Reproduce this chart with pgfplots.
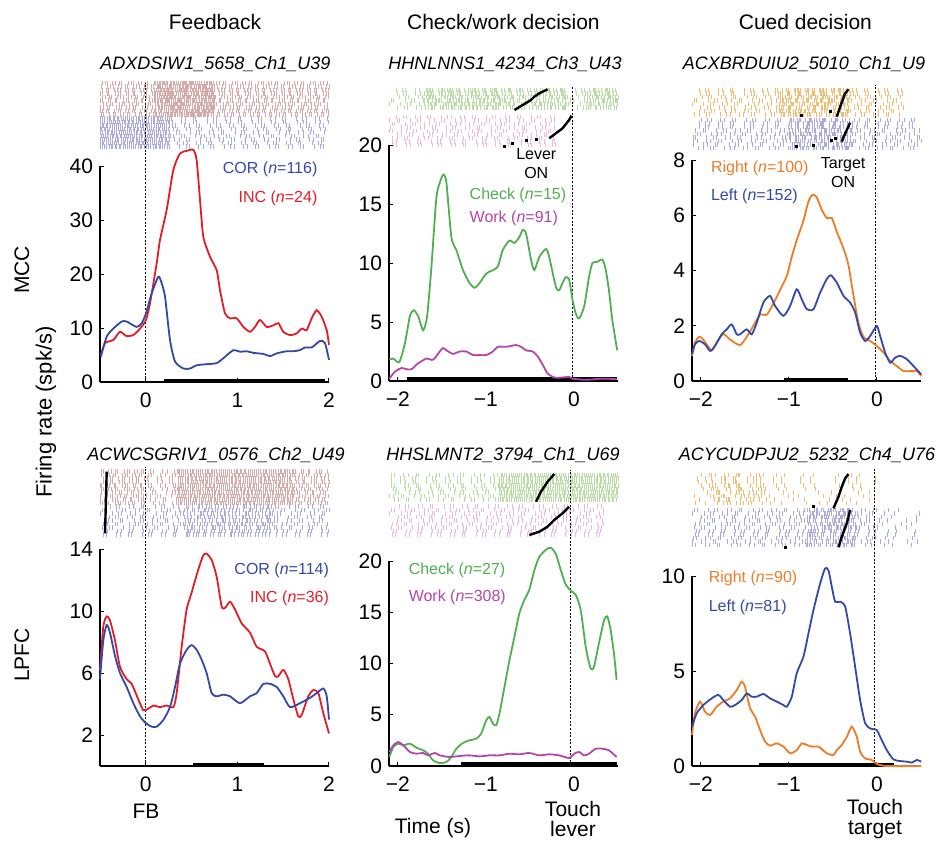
\documentclass[border=0pt]{standalone}
\usepackage{fontspec}
\setmainfont{Liberation Sans}
\usepackage{pgfplots}
\pgfplotsset{compat=1.18}

\definecolor{cblue}{RGB}{52,72,168}
\definecolor{cred}{RGB}{225,30,40}
\definecolor{cgreen}{RGB}{80,175,80}
\definecolor{cmag}{RGB}{180,70,170}
\definecolor{corange}{RGB}{235,125,40}
\definecolor{rpink}{RGB}{215,170,170}
\definecolor{rlav}{RGB}{170,170,222}
\definecolor{rgreen}{RGB}{185,220,165}
\definecolor{rwork}{RGB}{235,185,225}
\definecolor{rorange}{RGB}{240,190,115}

\pgfplotsset{
  panel/.style={scale only axis, width=114.5pt, axis lines=left,
    axis line style={-, line width=0.6pt}, clip=false,
    tick align=inside, major tick length=2pt, tick style={black, line width=0.5pt},
    tick label style={font=\fontsize{10.5}{12}\selectfont},
    xticklabel style={yshift=-2pt},
    /pgf/number format/assume math mode=true,
    every axis plot/.append style={line width=0.9pt}},
  raster/.style={scale only axis, width=114.5pt, axis lines=none, y dir=reverse,
    clip=false, anchor=north west},
  sp/.style={dash pattern=on .5pt off 2.6pt on .5pt off 1.1pt on .5pt off 4.2pt on .5pt off 1.7pt on .5pt off 3.4pt on .5pt off .8pt on .5pt off 5.1pt},
  vs/.style={dash pattern=on .5pt off 6pt on .5pt off 3.5pt on .5pt off 9pt on .5pt off 4.7pt on .5pt off 12pt},
  md/.style={dash pattern=on .5pt off 1.2pt on .5pt off .6pt on .5pt off 2.1pt on .5pt off .9pt on .5pt off 1.6pt on .5pt off .4pt on .5pt off 2.7pt},
  dn/.style={dash pattern=on .5pt off .5pt on .5pt off .2pt on .5pt off .8pt on .5pt off .3pt on .5pt off .6pt on .5pt off .4pt on .5pt off 1pt},
  sig/.style={black, line width=1.8pt},
  fbline/.style={black, line width=0.65pt, dash pattern=on 1pt off 0.8pt},
  evt/.style={black, line width=1.2pt},
  evd/.style={black, only marks, mark=square*, mark size=0.55pt},
}

% raster rows: x from, x to, list of row positions, style
% (the dash phase of each row is shifted so the ticks do not line up)
\newcommand\rrows[4]{\pgfplotsinvokeforeach{#3}{%
  \pgfmathsetmacro\rph{10+9*sin(mod(##1,10)*97+##1)}%
  \edef\rtmp{\noexpand\addplot[#4, line width=2.1pt, dash phase=\rph pt] coordinates {(#1,##1) (#2,##1)};}\rtmp}}

\newcommand\leg{\fontsize{8}{9.5}\selectfont}
\newcommand\lab{\fontsize{10.5}{10}\selectfont}

\begin{document}
\begin{tikzpicture}
\path[use as bounding box] (0,0) rectangle (469pt,-421.5pt);

% headers and labels
\node[font=\lab] at (107.5pt,-11pt) {Feedback};
\node[font=\lab] at (251.7pt,-11pt) {Check/work decision};
\node[font=\lab] at (402.7pt,-11pt) {Cued decision};
\node[font=\fontsize{9}{10}\selectfont\itshape] at (107.7pt,-32pt) {ADXDSIW1\_5658\_Ch1\_U39};
\node[font=\fontsize{9}{10}\selectfont\itshape] at (252.5pt,-32pt) {HHNLNNS1\_4234\_Ch3\_U43};
\node[font=\fontsize{9}{10}\selectfont\itshape] at (402pt,-32pt) {ACXBRDUIU2\_5010\_Ch1\_U9};
\node[font=\fontsize{9}{10}\selectfont\itshape] at (108pt,-227.5pt) {ACWCSGRIV1\_0576\_Ch2\_U49};
\node[font=\fontsize{9}{10}\selectfont\itshape] at (251.5pt,-227.5pt) {HHSLMNT2\_3794\_Ch1\_U69};
\node[font=\fontsize{9}{10}\selectfont\itshape] at (403.5pt,-227.5pt) {ACYCUDPJU2\_5232\_Ch4\_U76};
\node[font=\lab, rotate=90] at (11pt,-135pt) {MCC};
\node[font=\lab, rotate=90] at (11pt,-327.5pt) {LPFC};
\node[font=\fontsize{11}{12}\selectfont, rotate=90] at (23pt,-206pt) {Firing rate (spk/s)};
\node[font=\lab] at (73pt,-405.5pt) {FB};
\node[font=\lab] at (216.5pt,-414pt) {Time (s)};
\node[font=\lab, align=center] at (286.5pt,-409.5pt) {Touch\\lever};
\node[font=\lab, align=center] at (437.5pt,-409.5pt) {Touch\\target};

% ---------------- A: MCC feedback ----------------
\begin{axis}[raster, at={(50pt,-39pt)}, height=36pt, xmin=-0.5, xmax=2, ymin=78, ymax=150]
\rrows{-0.5}{2}{83,86.5,90,93.5,97,100.5,104,107.5,111,114.5}{rpink, md}
\rrows{0.1}{0.75}{83,86.5,90,93.5,97,100.5,104,107.5,111,114.5}{rpink, dn}
\rrows{-0.5}{0.26}{118.5,122,125.5,129,132.5,136,139.5,143,146.5}{rlav, dn}
\rrows{0.26}{2}{118.5,122,125.5,129,132.5,136,139.5,143,146.5}{rlav, sp}
\end{axis}
\begin{axis}[panel, at={(50pt,-191pt)}, anchor=south west, height=108pt,
  xmin=-0.5, xmax=2, ymin=0, ymax=40, xtick={0,1,2}, ytick={0,10,20,30,40}]
\addplot[fbline] coordinates {(0,0) (0,55.4)};
\addplot[sig] coordinates {(0.2,0.3) (1.96,0.3)};
\addplot[cred, smooth, tension=0.4] coordinates {
(-0.49,5.0) (-0.445,7.2) (-0.354,7.8) (-0.282,9.3) (-0.209,8.5) (-0.136,8.7)
(-0.063,9.9) (0.002,11.5) (0.046,14.6) (0.119,22.0) (0.155,26.3) (0.228,31.9)
(0.301,39.3) (0.373,42.3) (0.446,42.8) (0.519,43.0) (0.555,41.1) (0.592,33.7)
(0.628,26.9) (0.701,23.2) (0.774,20.7) (0.810,17.0) (0.865,12.7) (0.919,11.8)
(0.992,11.8) (1.065,10.2) (1.138,9.3) (1.192,10.2) (1.247,11.5) (1.320,10.2)
(1.392,10.5) (1.447,10.9) (1.501,9.3) (1.574,8.7) (1.647,9.0) (1.702,9.9)
(1.756,9.6) (1.811,11.8) (1.865,13.3) (1.920,12.1) (1.975,9.6) (2.0,6.9)};
\addplot[cblue, smooth, tension=0.4] coordinates {
(-0.49,4.7) (-0.427,8.4) (-0.354,9.9) (-0.263,11.2) (-0.209,11.2) (-0.1,10.2)
(-0.045,10.9) (0.002,12.7) (0.064,16.4) (0.137,19.5) (0.173,18.3) (0.210,15.8)
(0.264,7.8) (0.319,3.8) (0.41,2.5) (0.483,2.5) (0.555,3.1) (0.664,3.3)
(0.774,3.5) (0.846,4.4) (0.956,5.9) (1.028,5.6) (1.101,5.7) (1.174,5.4)
(1.283,5.2) (1.356,4.8) (1.429,5.3) (1.538,5.7) (1.611,5.7) (1.683,5.9)
(1.738,6.4) (1.811,6.4) (1.902,7.6) (1.956,7.2) (2.0,4.1)};
\node[anchor=east, font=\leg, text=cblue] at (axis cs:1.95,39.3) {COR (\textit{n}=116)};
\node[anchor=east, font=\leg, text=cred] at (axis cs:1.95,34.1) {INC (\textit{n}=24)};
\end{axis}

% ---------------- B: MCC check/work ----------------
\begin{axis}[raster, at={(194.5pt,-43pt)}, height=31pt, xmin=-2.1, xmax=0.5, ymin=86, ymax=148]
\rrows{-2.1}{0.5}{90,93.5,97,100.5,104,107.5}{rgreen, sp}
\rrows{-1.7}{-0.1}{90,93.5,97,100.5,104,107.5}{rgreen, md}
\rrows{0.15}{0.5}{90,93.5,97,100.5,104,107.5}{rgreen, md}
\rrows{-2.1}{-0.2}{117,120.5,124,127.5,131,134.5,138,141.5,145}{rwork, sp}
\addplot[evt] coordinates {(-0.676,110) (-0.582,105) (-0.488,100) (-0.45,96.7) (-0.394,93.3) (-0.3,89.3)};
\addplot[evt] coordinates {(-0.281,138.3) (-0.206,133.3) (-0.130,128.3) (-0.055,120) (-0.028,115.7)};
\addplot[evd] coordinates {(-0.789,146.7) (-0.695,143.3) (-0.544,140.7) (-0.431,139.3)};
\end{axis}
\begin{axis}[panel, at={(194.5pt,-190.5pt)}, anchor=south west, height=118pt,
  xmin=-2.1, xmax=0.5, ymin=0, ymax=20, xtick={-2,-1,0}, xticklabels={−2,−1,0},
  ytick={0,5,10,15,20}]
\addplot[fbline] coordinates {(-0.02,0) (-0.02,24.9)};
\addplot[sig] coordinates {(-1.9,0.15) (0.49,0.15)};
\addplot[cgreen, smooth, tension=0.4] coordinates {
(-2.096,1.8) (-2.051,1.9) (-1.983,1.6) (-1.919,3.2) (-1.863,5.5) (-1.818,6.0)
(-1.769,5.5) (-1.712,4.3) (-1.667,5.5) (-1.618,9.7) (-1.561,15.6) (-1.505,17.2)
(-1.479,17.5) (-1.448,16.8) (-1.392,12.2) (-1.335,11.1) (-1.260,9.4) (-1.185,8.3)
(-1.128,7.9) (-1.072,8.3) (-0.996,9.1) (-0.921,9.4) (-0.865,9.7) (-0.808,11.1)
(-0.733,11.9) (-0.676,11.7) (-0.620,12.2) (-0.582,12.8) (-0.544,12.5) (-0.488,10.3)
(-0.450,9.4) (-0.394,10.5) (-0.318,11.2) (-0.281,10.5) (-0.206,8.0) (-0.168,7.7)
(-0.130,8.3) (-0.093,8.8) (-0.055,8.6) (-0.017,6.9) (0.021,5.7) (0.058,5.3)
(0.115,6.3) (0.171,8.8) (0.209,10.0) (0.265,10.1) (0.322,10.3) (0.359,9.5)
(0.397,7.7) (0.435,5.2) (0.491,2.6)};
\addplot[cmag, smooth, tension=0.4] coordinates {
(-2.096,0.2) (-2.032,0.8) (-1.957,1.1) (-1.900,1.0) (-1.844,1.0) (-1.769,1.5)
(-1.674,1.9) (-1.599,1.8) (-1.524,2.5) (-1.486,2.8) (-1.448,2.6) (-1.373,2.3)
(-1.298,2.5) (-1.222,2.5) (-1.147,2.2) (-1.072,2.2) (-0.996,2.2) (-0.921,2.5)
(-0.865,2.9) (-0.770,2.9) (-0.657,3.05) (-0.601,2.9) (-0.544,2.6) (-0.469,2.5)
(-0.413,2.1) (-0.356,1.4) (-0.300,0.65) (-0.224,0.3) (-0.130,0.3) (-0.055,0.35)
(-0.017,0.2) (0.134,0.1) (0.322,0.2) (0.491,0.15)};
\node[anchor=west, font=\leg, text=cgreen] at (axis cs:-1.264,15.7) {Check (\textit{n}=15)};
\node[anchor=west, font=\leg, text=cmag] at (axis cs:-1.264,13.8) {Work (\textit{n}=91)};
\node[font=\leg, align=center, fill=white, inner sep=0.5pt] at (axis cs:-0.428,18.4) {Lever\\ON};
\end{axis}

% ---------------- C: MCC cued ----------------
\begin{axis}[raster, at={(346pt,-43pt)}, height=32pt, xmin=-2.1, xmax=0.5, ymin=86, ymax=150]
\rrows{-2.1}{0.3}{90,93.5,97,100.5,104,107.5,111,114.5}{rorange, sp}
\rrows{-1.1}{-0.3}{90,93.5,97,100.5,104,107.5,111,114.5}{rorange, md}
\rrows{-2.1}{0.5}{120,123.5,127,130.5,134,137.5,141,144.5,148}{rlav, sp}
\rrows{-1.0}{-0.3}{120,123.5,127,130.5,134,137.5,141,144.5,148}{rlav, md}
\addplot[evt] coordinates {(-0.456,116.7) (-0.418,106.7) (-0.361,93.3) (-0.324,89.3)};
\addplot[evt] coordinates {(-0.399,141.7) (-0.361,133.3) (-0.305,122.7)};
\addplot[evd] coordinates {(-0.854,115) (-0.532,111.7) (-0.911,146.7) (-0.721,145) (-0.513,140.7) (-0.475,138.3)};
\end{axis}
\begin{axis}[panel, at={(346pt,-190.5pt)}, anchor=south west, height=110.5pt,
  xmin=-2.1, xmax=0.5, ymin=0, ymax=8, xtick={-2,-1,0}, xticklabels={−2,−1,0},
  ytick={0,2,4,6,8}]
\addplot[fbline] coordinates {(-0.02,0) (-0.02,10.7)};
\addplot[sig] coordinates {(-1.055,0.06) (-0.324,0.06)};
\addplot[corange, smooth, tension=0.4] coordinates {
(-2.1,0.9) (-2.066,1.4) (-2.017,1.6) (-1.971,1.5) (-1.877,1.1) (-1.820,1.4)
(-1.744,1.7) (-1.668,1.5) (-1.555,1.3) (-1.479,1.6) (-1.403,2.0) (-1.327,2.4)
(-1.252,2.4) (-1.176,2.8) (-1.100,3.3) (-1.024,3.8) (-0.967,4.5) (-0.911,5.1)
(-0.835,5.8) (-0.778,6.5) (-0.733,6.74) (-0.683,6.65) (-0.627,6.2) (-0.570,5.9)
(-0.513,5.9) (-0.456,5.4) (-0.380,4.8) (-0.324,4.2) (-0.267,3.1) (-0.210,2.1)
(-0.153,1.6) (-0.077,1.45) (-0.002,1.27) (0.074,1.03) (0.150,0.73) (0.226,0.54)
(0.302,0.36) (0.377,0.36) (0.453,0.36) (0.502,0.18)};
\addplot[cblue, smooth, tension=0.4] coordinates {
(-2.1,0.97) (-2.066,1.33) (-2.017,1.45) (-1.952,1.33) (-1.895,1.09) (-1.839,1.27)
(-1.763,1.69) (-1.706,1.87) (-1.649,2.05) (-1.592,1.69) (-1.555,1.69) (-1.479,1.87)
(-1.422,1.69) (-1.365,2.11) (-1.289,2.84) (-1.214,3.08) (-1.157,2.72) (-1.062,2.36)
(-0.986,2.72) (-0.911,3.32) (-0.854,2.96) (-0.797,2.60) (-0.721,2.60) (-0.645,3.20)
(-0.570,3.69) (-0.524,3.83) (-0.456,3.56) (-0.380,3.08) (-0.305,2.84) (-0.248,2.48)
(-0.191,1.75) (-0.134,1.45) (-0.077,1.63) (-0.002,1.99) (0.036,1.63) (0.093,1.03)
(0.150,0.66) (0.207,0.85) (0.264,0.91) (0.339,0.79) (0.415,0.54) (0.502,0.24)};
\node[anchor=west, font=\leg, text=corange] at (axis cs:-1.964,7.68) {Right (\textit{n}=100)};
\node[anchor=west, font=\leg, text=cblue] at (axis cs:-1.964,6.67) {Left (\textit{n}=152)};
\node[font=\leg, align=center, fill=white, inner sep=0.5pt] at (axis cs:-0.384,7.55) {Target\\ON};
\end{axis}

% ---------------- D: LPFC feedback ----------------
\begin{axis}[raster, at={(50pt,-234pt)}, height=34.5pt, xmin=-0.5, xmax=2, ymin=468, ymax=537]
\rrows{-0.5}{0}{471.5,475,478.5,482,485.5,489,492.5,496,499.5,503}{rpink, md}
\rrows{0}{0.35}{471.5,475,478.5,482,485.5,489,492.5,496,499.5,503}{rpink, sp}
\rrows{0.35}{1.6}{471.5,475,478.5,482,485.5,489,492.5,496,499.5,503}{rpink, dn}
\rrows{1.6}{2}{471.5,475,478.5,482,485.5,489,492.5,496,499.5,503}{rpink, md}
\rrows{-0.5}{2}{506.5,510,513.5,517,520.5,524,527.5,531,534.5}{rlav, sp}
\rrows{-0.5}{-0.1}{506.5,510,513.5,517,520.5,524,527.5,531,534.5}{rlav, sp}
\rrows{0.4}{1.4}{506.5,510,513.5,517,520.5,524,527.5,531,534.5}{rlav, sp}
\addplot[evt] coordinates {(-0.427,471.7) (-0.445,533.3)};
\end{axis}
\begin{axis}[panel, at={(50pt,-383pt)}, anchor=south west, height=108.5pt,
  xmin=-0.5, xmax=2, ymin=0, ymax=14, xtick={0,1,2}, ytick={2,6,10,14}]
\addplot[fbline] coordinates {(0,0) (0,19.3)};
\addplot[sig] coordinates {(0.519,0.11) (1.29,0.11)};
\addplot[cred, smooth, tension=0.4] coordinates {
(-0.5,6.2) (-0.464,9.0) (-0.427,9.65) (-0.391,9.4) (-0.336,8.1) (-0.282,6.4)
(-0.209,5.6) (-0.154,5.3) (-0.082,4.3) (-0.027,3.6) (0.028,3.7) (0.082,3.9)
(0.155,3.8) (0.228,3.9) (0.301,3.8) (0.337,4.7) (0.392,7.7) (0.446,10.1)
(0.501,11.2) (0.574,12.7) (0.628,13.6) (0.664,13.7) (0.719,13.3) (0.774,12.2)
(0.828,10.3) (0.865,10.2) (0.919,10.6) (0.974,10.1) (1.047,9.2) (1.138,8.6)
(1.210,7.7) (1.301,7.4) (1.356,6.6) (1.411,5.8) (1.447,5.8) (1.501,6.2)
(1.556,5.6) (1.611,4.3) (1.665,3.2) (1.702,3.3) (1.774,4.5) (1.829,4.9)
(1.884,4.7) (1.938,3.4) (2.0,2.1)};
\addplot[cblue, smooth, tension=0.4] coordinates {
(-0.5,5.6) (-0.464,8.1) (-0.427,9.1) (-0.391,8.6) (-0.336,7.1) (-0.282,6.0)
(-0.209,5.1) (-0.136,4.05) (-0.063,3.2) (0.002,2.76) (0.064,2.54) (0.119,2.54)
(0.191,2.97) (0.264,3.8) (0.319,5.1) (0.373,6.6) (0.446,7.5) (0.501,7.8)
(0.555,7.5) (0.610,6.85) (0.664,6.0) (0.719,4.7) (0.774,4.5) (0.846,4.6)
(0.919,4.5) (1.028,4.05) (1.138,4.5) (1.210,4.7) (1.283,5.3) (1.356,5.3)
(1.429,5.1) (1.501,4.5) (1.574,3.8) (1.683,4.05) (1.793,4.4) (1.865,4.7)
(1.938,5.0) (1.975,4.5) (2.0,3.0)};
\node[anchor=east, font=\leg, text=cblue] at (axis cs:2.076,12.65) {COR (\textit{n}=114)};
\node[anchor=east, font=\leg, text=cred] at (axis cs:2.076,10.84) {INC (\textit{n}=36)};
\end{axis}

% ---------------- E: LPFC check/work ----------------
\begin{axis}[raster, at={(194.5pt,-236pt)}, height=32.5pt, xmin=-2.1, xmax=0.5, ymin=472, ymax=537]
\rrows{-2.1}{-0.85}{475,478.5,482,485.5,489,492.5,496,499.5}{rgreen, sp}
\rrows{-0.85}{0.5}{475,478.5,482,485.5,489,492.5,496,499.5}{rgreen, dn}
\rrows{-2.1}{0.35}{506.5,510,513.5,517,520.5,524,527.5,531,534.5}{rwork, sp}
\addplot[evt] coordinates {(-0.431,501.7) (-0.375,491.7) (-0.300,481.7) (-0.224,474)};
\addplot[evt] coordinates {(-0.507,535) (-0.394,531.7) (-0.300,526.7) (-0.224,520) (-0.130,513.3) (-0.055,506.7)};
\end{axis}
\begin{axis}[panel, at={(194.5pt,-383pt)}, anchor=south west, height=102.5pt,
  xmin=-2.1, xmax=0.5, ymin=0, ymax=20, xtick={-2,-1,0}, xticklabels={−2,−1,0},
  ytick={0,5,10,15,20}]
\addplot[fbline] coordinates {(-0.04,0) (-0.04,28.9)};
\addplot[sig] coordinates {(-1.279,0.17) (0.484,0.17)};
\addplot[cgreen, smooth, tension=0.4] coordinates {
(-2.096,0.88) (-2.051,1.86) (-1.995,2.18) (-1.938,2.02) (-1.863,2.18) (-1.787,1.79)
(-1.712,1.53) (-1.656,1.2) (-1.599,0.55) (-1.524,0.29) (-1.448,0.39) (-1.392,0.88)
(-1.335,1.69) (-1.260,2.25) (-1.185,2.51) (-1.109,2.67) (-1.053,3.16) (-0.996,4.46)
(-0.959,4.79) (-0.921,4.14) (-0.883,3.97) (-0.846,5.11) (-0.789,7.72) (-0.733,10.3)
(-0.676,12.6) (-0.620,14.9) (-0.563,16.2) (-0.507,17.2) (-0.450,19.1) (-0.394,20.4)
(-0.318,21.1) (-0.262,21.3) (-0.206,20.7) (-0.149,19.1) (-0.093,17.7) (-0.036,17.1)
(0.021,16.7) (0.077,15.2) (0.134,11.6) (0.190,9.5) (0.228,9.7) (0.284,12.0)
(0.341,14.2) (0.378,14.6) (0.416,13.3) (0.454,11.0) (0.484,8.4)};
\addplot[cmag, smooth, tension=0.4] coordinates {
(-2.096,1.37) (-2.051,2.02) (-1.995,2.35) (-1.938,2.02) (-1.863,1.37) (-1.787,1.2)
(-1.712,1.27) (-1.656,1.04) (-1.580,1.27) (-1.524,1.04) (-1.411,0.88) (-1.298,0.98)
(-1.185,1.04) (-1.072,0.94) (-0.959,1.04) (-0.846,1.04) (-0.733,1.2) (-0.620,1.14)
(-0.507,1.27) (-0.394,1.04) (-0.281,1.14) (-0.168,1.04) (-0.055,0.78) (0.002,1.2)
(0.058,1.37) (0.115,1.04) (0.171,1.2) (0.247,1.69) (0.322,1.69) (0.397,1.53)
(0.484,0.88)};
\node[anchor=west, font=\leg, text=cgreen] at (axis cs:-1.956,19.1) {Check (\textit{n}=27)};
\node[anchor=west, font=\leg, text=cmag] at (axis cs:-1.956,16.5) {Work (\textit{n}=308)};
\end{axis}

% ---------------- F: LPFC cued ----------------
\begin{axis}[raster, at={(346pt,-236pt)}, height=38pt, xmin=-2.1, xmax=0.5, ymin=472, ymax=548]
\rrows{-2.1}{0}{475,478.5,482,485.5,489,492.5,496,499.5,503}{rorange, vs}
\rrows{-1.9}{-1.3}{475,478.5,482,485.5,489,492.5,496,499.5,503}{rorange, sp}
\rrows{-2.1}{0}{510,513.5,517,520.5,524,527.5,531,534.5,538,541.5,545}{rlav, sp}
\rrows{-0.8}{-0.25}{510,513.5,517,520.5,524,527.5,531,534.5,538,541.5,545}{rlav, md}
\rrows{0}{0.5}{510,513.5,517,520.5,524,527.5,531,534.5,538,541.5,545}{rlav, vs}
\addplot[evt] coordinates {(-0.494,508.3) (-0.437,496.7) (-0.399,486.7) (-0.361,478.3) (-0.324,474)};
\addplot[evt] coordinates {(-0.437,547.3) (-0.399,536.7) (-0.342,523.3) (-0.305,510)};
\addplot[evd] coordinates {(-0.721,506.7) (-1.043,547.3)};
\end{axis}
\begin{axis}[panel, at={(346pt,-383pt)}, anchor=south west, height=95pt,
  xmin=-2.1, xmax=0.5, ymin=0, ymax=10, xtick={-2,-1,0}, xticklabels={−2,−1,0},
  ytick={0,5,10}]
\addplot[fbline] coordinates {(-0.03,0) (-0.03,15.7)};
\addplot[sig] coordinates {(-1.335,0.09) (0.195,0.09)};
\addplot[corange, smooth, tension=0.4] coordinates {
(-2.1,1.63) (-2.066,2.77) (-2.009,3.39) (-1.952,2.86) (-1.895,2.68) (-1.820,3.12)
(-1.744,3.39) (-1.668,3.56) (-1.592,4.0) (-1.536,4.44) (-1.498,4.18) (-1.441,3.04)
(-1.384,2.60) (-1.327,1.89) (-1.270,1.28) (-1.214,1.07) (-1.138,1.19) (-1.062,1.02)
(-0.986,0.67) (-0.911,0.84) (-0.854,1.19) (-0.797,1.11) (-0.740,1.02) (-0.664,1.02)
(-0.570,0.67) (-0.494,0.58) (-0.456,0.84) (-0.399,1.11) (-0.342,1.54) (-0.286,2.07)
(-0.229,1.54) (-0.191,0.75) (-0.134,0.40) (-0.058,0.32) (-0.002,0.11) (0.112,0)
(0.502,0)};
\addplot[cblue, smooth, tension=0.4] coordinates {
(-2.1,2.07) (-2.047,2.77) (-1.971,3.21) (-1.877,3.56) (-1.801,3.74) (-1.744,3.47)
(-1.668,3.12) (-1.611,3.21) (-1.536,3.47) (-1.479,3.82) (-1.422,3.65) (-1.365,3.65)
(-1.289,3.79) (-1.214,3.56) (-1.138,3.39) (-1.062,3.21) (-1.024,3.12) (-0.967,3.65)
(-0.911,4.88) (-0.835,5.75) (-0.778,6.98) (-0.721,8.21) (-0.645,9.61) (-0.589,10.4)
(-0.551,10.3) (-0.513,9.44) (-0.475,8.65) (-0.418,8.65) (-0.361,8.39) (-0.305,6.98)
(-0.248,5.23) (-0.191,3.47) (-0.134,2.25) (-0.077,1.98) (-0.002,1.89) (0.036,1.54)
(0.111,0.84) (0.187,0.35) (0.264,0.26) (0.339,0.23) (0.396,0.18) (0.453,0.32)
(0.502,0.23)};
\node[anchor=west, font=\leg, text=corange] at (axis cs:-1.99,9.9) {Right (\textit{n}=90)};
\node[anchor=west, font=\leg, text=cblue] at (axis cs:-1.99,8.37) {Left (\textit{n}=81)};
\end{axis}
\end{tikzpicture}
\end{document}
